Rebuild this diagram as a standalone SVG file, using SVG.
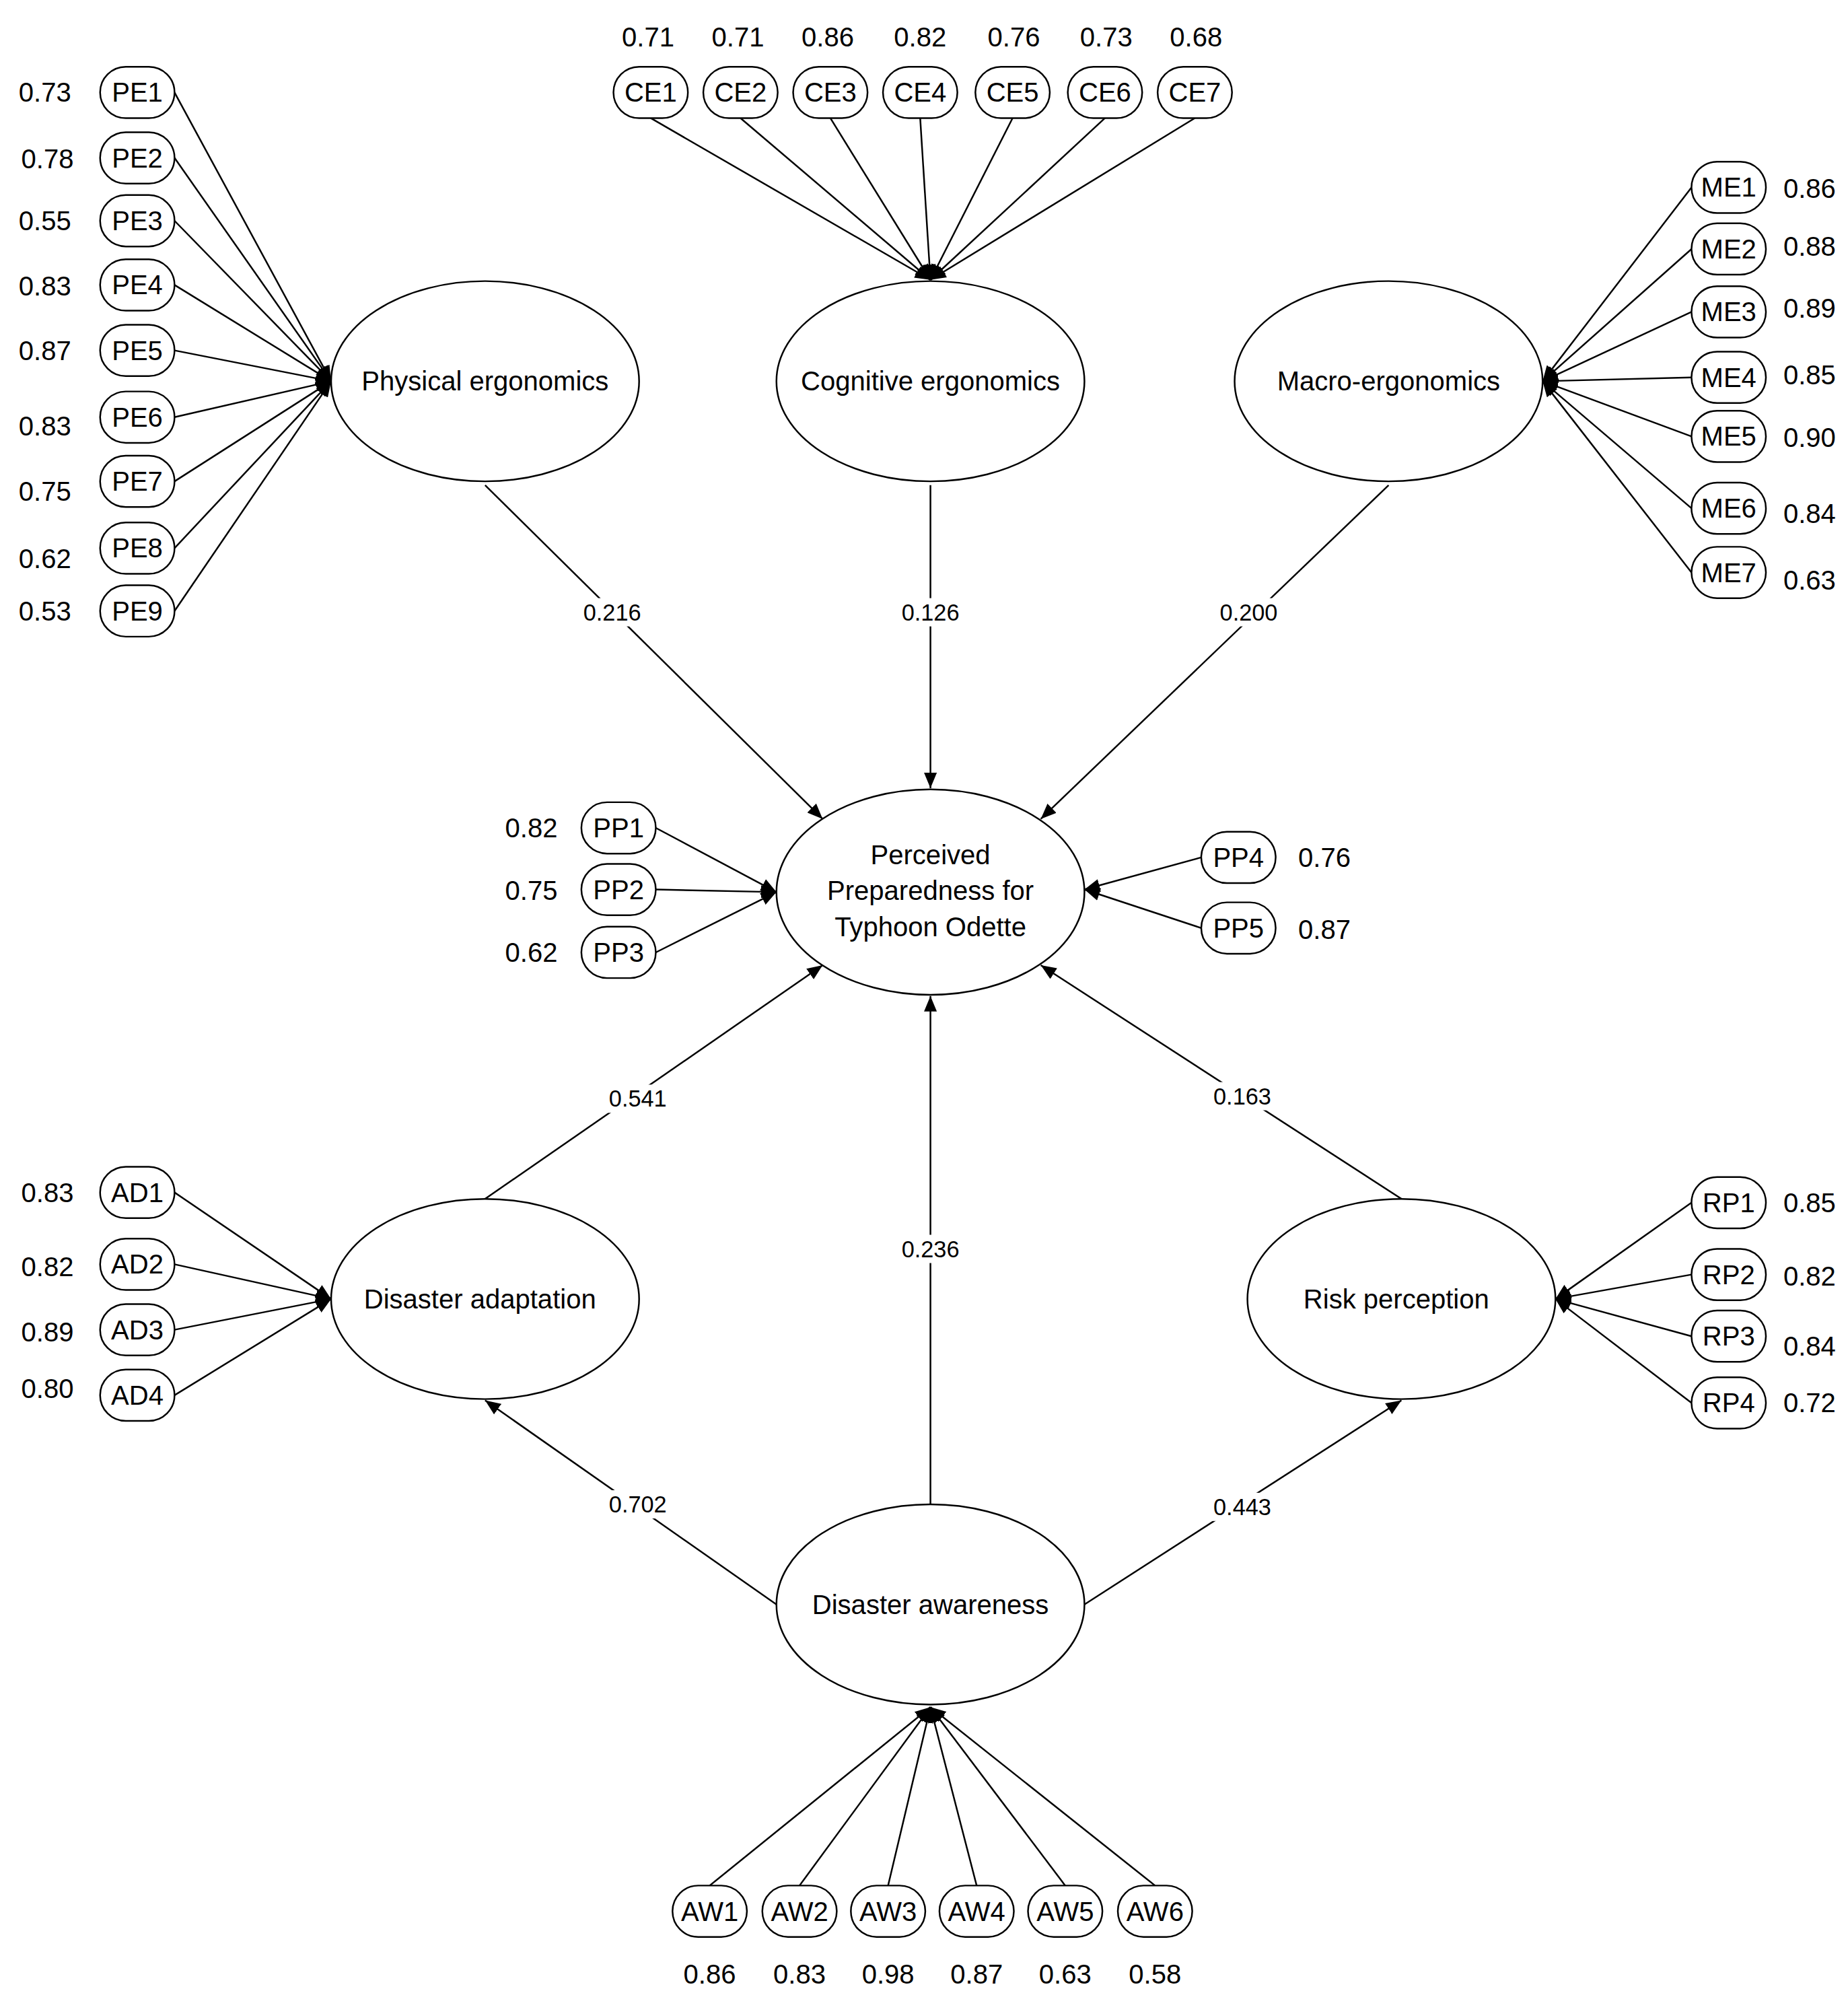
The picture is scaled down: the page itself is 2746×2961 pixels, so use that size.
<svg xmlns="http://www.w3.org/2000/svg" width="2746" height="2961" viewBox="0 0 2746 2961">
<style>
text{font-family:"Liberation Sans",Arial,sans-serif;fill:#000;text-anchor:middle;dominant-baseline:central}
.ind rect{fill:#fff;stroke:#000;stroke-width:1.3}
.ind text{font-size:21px}
.val{font-size:21px}
.lat ellipse{fill:#fff;stroke:#000;stroke-width:1.3}
.lat text{font-size:21px}
#connectors line{stroke:#000;stroke-width:1.3;marker-end:url(#ah)}
.el{font-size:18px}
.elbg{fill:#fff}
</style>
<defs>
<marker id="ah" viewBox="0 0 12 10" refX="12" refY="5" markerWidth="12" markerHeight="10" markerUnits="userSpaceOnUse" orient="auto"><path d="M0,0 L12,5 L0,10 z" fill="#000"/></marker>
</defs>
<rect width="2746" height="2961" fill="#fff"/>
<g transform="scale(1.907)">
<g id="connectors">
<line x1="136" y1="72" x2="258" y2="297"/><line x1="136" y1="123" x2="258" y2="297"/><line x1="136" y1="172" x2="258" y2="297"/><line x1="136" y1="222" x2="258" y2="297"/><line x1="136" y1="273" x2="258" y2="297"/><line x1="136" y1="325" x2="258" y2="297"/><line x1="136" y1="375" x2="258" y2="297"/><line x1="136" y1="427" x2="258" y2="297"/><line x1="136" y1="476" x2="258" y2="297"/>
<line x1="507" y1="92" x2="725" y2="218"/><line x1="577" y1="92" x2="725" y2="218"/><line x1="647" y1="92" x2="725" y2="218"/><line x1="717" y1="92" x2="725" y2="218"/><line x1="789" y1="92" x2="725" y2="218"/><line x1="861" y1="92" x2="725" y2="218"/><line x1="931" y1="92" x2="725" y2="218"/>
<line x1="1318" y1="146" x2="1202" y2="297"/><line x1="1318" y1="194" x2="1202" y2="297"/><line x1="1318" y1="243" x2="1202" y2="297"/><line x1="1318" y1="294" x2="1202" y2="297"/><line x1="1318" y1="340" x2="1202" y2="297"/><line x1="1318" y1="396" x2="1202" y2="297"/><line x1="1318" y1="446" x2="1202" y2="297"/>
<line x1="511" y1="645" x2="605" y2="695"/><line x1="511" y1="693" x2="605" y2="695"/><line x1="511" y1="742" x2="605" y2="695"/>
<line x1="936" y1="668" x2="845" y2="693"/><line x1="936" y1="723" x2="845" y2="693"/>
<line x1="136" y1="929" x2="258" y2="1012"/><line x1="136" y1="985" x2="258" y2="1012"/><line x1="136" y1="1036" x2="258" y2="1012"/><line x1="136" y1="1087" x2="258" y2="1012"/>
<line x1="1318" y1="937" x2="1212" y2="1012"/><line x1="1318" y1="993" x2="1212" y2="1012"/><line x1="1318" y1="1041" x2="1212" y2="1012"/><line x1="1318" y1="1093" x2="1212" y2="1012"/>
<line x1="553" y1="1469" x2="725" y2="1330"/><line x1="623" y1="1469" x2="725" y2="1330"/><line x1="692" y1="1469" x2="725" y2="1330"/><line x1="761" y1="1469" x2="725" y2="1330"/><line x1="830" y1="1469" x2="725" y2="1330"/><line x1="900" y1="1469" x2="725" y2="1330"/>
<line x1="378" y1="378" x2="641" y2="638"/><line x1="725" y1="378" x2="725" y2="614"/><line x1="1082" y1="378" x2="811" y2="638"/>
<line x1="378" y1="934" x2="641" y2="752"/><line x1="1092" y1="934" x2="811" y2="752"/><line x1="725" y1="1172" x2="725" y2="776"/>
<line x1="605" y1="1250" x2="378" y2="1091"/><line x1="845" y1="1250" x2="1092" y2="1091"/>
<rect class="elbg" x="450" y="466" width="56" height="22"/><text class="el" x="477" y="477">0.216</text>
<rect class="elbg" x="697" y="466" width="56" height="22"/><text class="el" x="725" y="477">0.126</text>
<rect class="elbg" x="945" y="466" width="56" height="22"/><text class="el" x="973" y="477">0.200</text>
<rect class="elbg" x="469" y="845" width="56" height="22"/><text class="el" x="497" y="856">0.541</text>
<rect class="elbg" x="940" y="843" width="56" height="22"/><text class="el" x="968" y="854">0.163</text>
<rect class="elbg" x="697" y="962" width="56" height="22"/><text class="el" x="725" y="973">0.236</text>
<rect class="elbg" x="469" y="1161" width="56" height="22"/><text class="el" x="497" y="1172">0.702</text>
<rect class="elbg" x="940" y="1163" width="56" height="22"/><text class="el" x="968" y="1174">0.443</text>
</g>
<g class="lat">
<g id="PE"><ellipse cx="378" cy="297" rx="120" ry="78"/><text x="378" y="297">Physical ergonomics</text></g>
<g id="CE"><ellipse cx="725" cy="297" rx="120" ry="78"/><text x="725" y="297">Cognitive ergonomics</text></g>
<g id="ME"><ellipse cx="1082" cy="297" rx="120" ry="78"/><text x="1082" y="297">Macro-ergonomics</text></g>
<g id="PP"><ellipse cx="725" cy="695" rx="120" ry="80"/><text x="725" y="666">Perceived</text><text x="725" y="694">Preparedness for</text><text x="725" y="722">Typhoon Odette</text></g>
<g id="AD"><ellipse cx="378" cy="1012" rx="120" ry="78"/><text x="374" y="1012">Disaster adaptation</text></g>
<g id="RP"><ellipse cx="1092" cy="1012" rx="120" ry="78"/><text x="1088" y="1012">Risk perception</text></g>
<g id="AW"><ellipse cx="725" cy="1250" rx="120" ry="78"/><text x="725" y="1250">Disaster awareness</text></g>
</g>
<g class="ind">
<g id="PE1"><rect x="78" y="52" width="58" height="40" rx="20"/><text x="107" y="72">PE1</text><text class="val" x="35" y="72">0.73</text></g>
<g id="PE2"><rect x="78" y="103" width="58" height="40" rx="20"/><text x="107" y="123">PE2</text><text class="val" x="37" y="124">0.78</text></g>
<g id="PE3"><rect x="78" y="152" width="58" height="40" rx="20"/><text x="107" y="172">PE3</text><text class="val" x="35" y="172">0.55</text></g>
<g id="PE4"><rect x="78" y="202" width="58" height="40" rx="20"/><text x="107" y="222">PE4</text><text class="val" x="35" y="223">0.83</text></g>
<g id="PE5"><rect x="78" y="253" width="58" height="40" rx="20"/><text x="107" y="273">PE5</text><text class="val" x="35" y="273">0.87</text></g>
<g id="PE6"><rect x="78" y="305" width="58" height="40" rx="20"/><text x="107" y="325">PE6</text><text class="val" x="35" y="332">0.83</text></g>
<g id="PE7"><rect x="78" y="355" width="58" height="40" rx="20"/><text x="107" y="375">PE7</text><text class="val" x="35" y="383">0.75</text></g>
<g id="PE8"><rect x="78" y="407" width="58" height="40" rx="20"/><text x="107" y="427">PE8</text><text class="val" x="35" y="435">0.62</text></g>
<g id="PE9"><rect x="78" y="456" width="58" height="40" rx="20"/><text x="107" y="476">PE9</text><text class="val" x="35" y="476">0.53</text></g>
<g id="CE1"><rect x="478" y="52" width="58" height="40" rx="20"/><text x="507" y="72">CE1</text><text class="val" x="505" y="29">0.71</text></g>
<g id="CE2"><rect x="548" y="52" width="58" height="40" rx="20"/><text x="577" y="72">CE2</text><text class="val" x="575" y="29">0.71</text></g>
<g id="CE3"><rect x="618" y="52" width="58" height="40" rx="20"/><text x="647" y="72">CE3</text><text class="val" x="645" y="29">0.86</text></g>
<g id="CE4"><rect x="688" y="52" width="58" height="40" rx="20"/><text x="717" y="72">CE4</text><text class="val" x="717" y="29">0.82</text></g>
<g id="CE5"><rect x="760" y="52" width="58" height="40" rx="20"/><text x="789" y="72">CE5</text><text class="val" x="790" y="29">0.76</text></g>
<g id="CE6"><rect x="832" y="52" width="58" height="40" rx="20"/><text x="861" y="72">CE6</text><text class="val" x="862" y="29">0.73</text></g>
<g id="CE7"><rect x="902" y="52" width="58" height="40" rx="20"/><text x="931" y="72">CE7</text><text class="val" x="932" y="29">0.68</text></g>
<g id="ME1"><rect x="1318" y="126" width="58" height="40" rx="20"/><text x="1347" y="146">ME1</text><text class="val" x="1410" y="147">0.86</text></g>
<g id="ME2"><rect x="1318" y="174" width="58" height="40" rx="20"/><text x="1347" y="194">ME2</text><text class="val" x="1410" y="192">0.88</text></g>
<g id="ME3"><rect x="1318" y="223" width="58" height="40" rx="20"/><text x="1347" y="243">ME3</text><text class="val" x="1410" y="240">0.89</text></g>
<g id="ME4"><rect x="1318" y="274" width="58" height="40" rx="20"/><text x="1347" y="294">ME4</text><text class="val" x="1410" y="292">0.85</text></g>
<g id="ME5"><rect x="1318" y="320" width="58" height="40" rx="20"/><text x="1347" y="340">ME5</text><text class="val" x="1410" y="341">0.90</text></g>
<g id="ME6"><rect x="1318" y="376" width="58" height="40" rx="20"/><text x="1347" y="396">ME6</text><text class="val" x="1410" y="400">0.84</text></g>
<g id="ME7"><rect x="1318" y="426" width="58" height="40" rx="20"/><text x="1347" y="446">ME7</text><text class="val" x="1410" y="452">0.63</text></g>
<g id="PP1"><rect x="453" y="625" width="58" height="40" rx="20"/><text x="482" y="645">PP1</text><text class="val" x="414" y="645">0.82</text></g>
<g id="PP2"><rect x="453" y="673" width="58" height="40" rx="20"/><text x="482" y="693">PP2</text><text class="val" x="414" y="694">0.75</text></g>
<g id="PP3"><rect x="453" y="722" width="58" height="40" rx="20"/><text x="482" y="742">PP3</text><text class="val" x="414" y="742">0.62</text></g>
<g id="PP4"><rect x="936" y="648" width="58" height="40" rx="20"/><text x="965" y="668">PP4</text><text class="val" x="1032" y="668">0.76</text></g>
<g id="PP5"><rect x="936" y="703" width="58" height="40" rx="20"/><text x="965" y="723">PP5</text><text class="val" x="1032" y="724">0.87</text></g>
<g id="AD1"><rect x="78" y="909" width="58" height="40" rx="20"/><text x="107" y="929">AD1</text><text class="val" x="37" y="929">0.83</text></g>
<g id="AD2"><rect x="78" y="965" width="58" height="40" rx="20"/><text x="107" y="985">AD2</text><text class="val" x="37" y="987">0.82</text></g>
<g id="AD3"><rect x="78" y="1016" width="58" height="40" rx="20"/><text x="107" y="1036">AD3</text><text class="val" x="37" y="1038">0.89</text></g>
<g id="AD4"><rect x="78" y="1067" width="58" height="40" rx="20"/><text x="107" y="1087">AD4</text><text class="val" x="37" y="1082">0.80</text></g>
<g id="RP1"><rect x="1318" y="917" width="58" height="40" rx="20"/><text x="1347" y="937">RP1</text><text class="val" x="1410" y="937">0.85</text></g>
<g id="RP2"><rect x="1318" y="973" width="58" height="40" rx="20"/><text x="1347" y="993">RP2</text><text class="val" x="1410" y="994">0.82</text></g>
<g id="RP3"><rect x="1318" y="1021" width="58" height="40" rx="20"/><text x="1347" y="1041">RP3</text><text class="val" x="1410" y="1049">0.84</text></g>
<g id="RP4"><rect x="1318" y="1073" width="58" height="40" rx="20"/><text x="1347" y="1093">RP4</text><text class="val" x="1410" y="1093">0.72</text></g>
<g id="AW1"><rect x="524" y="1469" width="58" height="40" rx="20"/><text x="553" y="1489">AW1</text><text class="val" x="553" y="1538">0.86</text></g>
<g id="AW2"><rect x="594" y="1469" width="58" height="40" rx="20"/><text x="623" y="1489">AW2</text><text class="val" x="623" y="1538">0.83</text></g>
<g id="AW3"><rect x="663" y="1469" width="58" height="40" rx="20"/><text x="692" y="1489">AW3</text><text class="val" x="692" y="1538">0.98</text></g>
<g id="AW4"><rect x="732" y="1469" width="58" height="40" rx="20"/><text x="761" y="1489">AW4</text><text class="val" x="761" y="1538">0.87</text></g>
<g id="AW5"><rect x="801" y="1469" width="58" height="40" rx="20"/><text x="830" y="1489">AW5</text><text class="val" x="830" y="1538">0.63</text></g>
<g id="AW6"><rect x="871" y="1469" width="58" height="40" rx="20"/><text x="900" y="1489">AW6</text><text class="val" x="900" y="1538">0.58</text></g>
</g>
</g>
</svg>
